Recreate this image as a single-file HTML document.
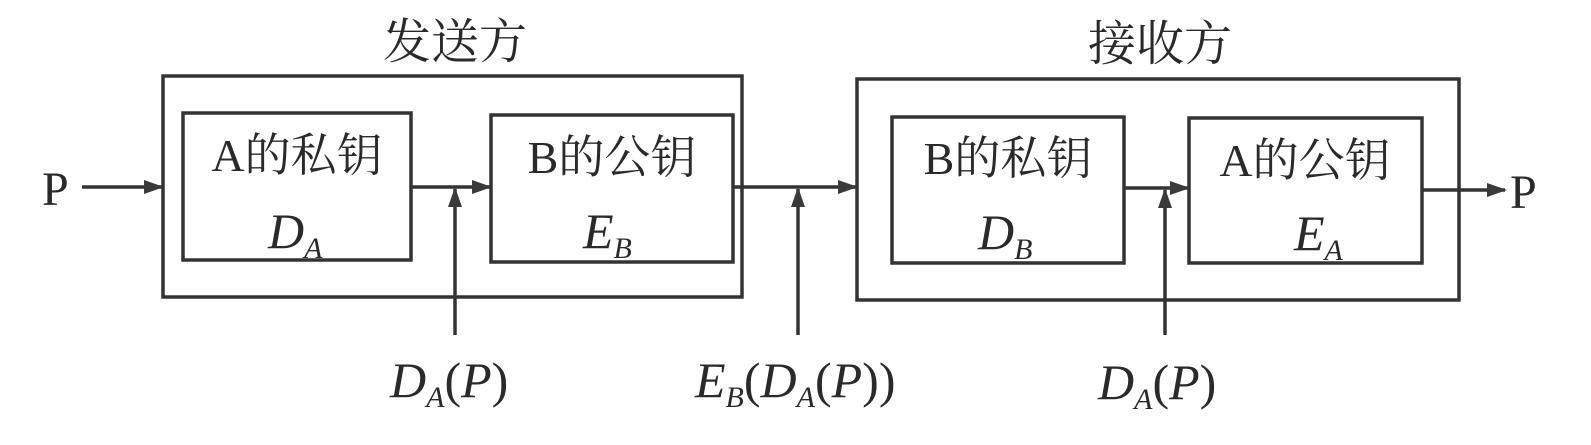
<!DOCTYPE html>
<html><head><meta charset="utf-8"><style>
html,body{margin:0;padding:0;background:#fff;}
svg{display:block}
text{fill:#2a2a2a}
.cj{font-family:"Liberation Serif","Noto Serif CJK SC",serif;}
.it{font-family:"Liberation Serif",serif;font-style:italic;}
</style></head><body>
<svg width="1591" height="445" viewBox="0 0 1591 445" xmlns="http://www.w3.org/2000/svg">
<defs>
<marker id="ah" markerWidth="20" markerHeight="20" refX="18" refY="10" orient="auto" markerUnits="userSpaceOnUse" viewBox="0 0 20 20"><path d="M0,3 L20,10 L0,17 z" fill="#3a3a3a"/></marker></defs>
<g fill="none" stroke="#333" stroke-width="3.5">
<rect x="163" y="76" width="579" height="221"/>
<rect x="183" y="113" width="228" height="147"/>
<rect x="491" y="115" width="242" height="147"/>
<rect x="857" y="79" width="602" height="221"/>
<rect x="892" y="117" width="232" height="146"/>
<rect x="1189" y="118" width="233" height="145"/>
<line x1="82" y1="187" x2="162" y2="187" marker-end="url(#ah)"/>
<line x1="411" y1="187" x2="490" y2="187" marker-end="url(#ah)"/>
<line x1="733" y1="187" x2="856" y2="187" marker-end="url(#ah)"/>
<line x1="1124" y1="188" x2="1188" y2="188" marker-end="url(#ah)"/>
<line x1="1422" y1="190" x2="1505" y2="190" marker-end="url(#ah)"/>
<line x1="455" y1="335" x2="455" y2="189" marker-end="url(#ah)"/>
<line x1="798" y1="335" x2="798" y2="189" marker-end="url(#ah)"/>
<line x1="1165" y1="335" x2="1165" y2="190" marker-end="url(#ah)"/>
</g>
<g class="cj" font-size="48" text-anchor="middle">
<text x="455" y="58">发送方</text>
<text x="1160" y="60">接收方</text>
</g>
<g class="cj" font-size="46" text-anchor="middle">
<text x="297" y="171">A的私钥</text>
<text x="612" y="173">B的公钥</text>
<text x="1008" y="174">B的私钥</text>
<text x="1305" y="176">A的公钥</text>
</g>
<g class="cj" font-size="48">
<text x="42" y="205">P</text>
<text x="1510" y="208">P</text>
</g>
<g class="it" font-size="50">
<text x="268" y="248">D<tspan font-size="30" dy="10">A</tspan></text>
<text x="583" y="248">E<tspan font-size="30" dy="10">B</tspan></text>
<text x="978" y="249">D<tspan font-size="30" dy="10">B</tspan></text>
<text x="1294" y="250">E<tspan font-size="30" dy="10">A</tspan></text>
<text x="390" y="397">D<tspan font-size="30" dy="10">A</tspan><tspan dy="-10" font-style="normal">(</tspan>P<tspan font-style="normal">)</tspan></text>
<text x="695" y="397">E<tspan font-size="30" dy="10">B</tspan><tspan dy="-10" font-style="normal">(</tspan>D<tspan font-size="30" dy="10">A</tspan><tspan dy="-10" font-style="normal">(</tspan>P<tspan font-style="normal">))</tspan></text>
<text x="1098" y="399">D<tspan font-size="30" dy="10">A</tspan><tspan dy="-10" font-style="normal">(</tspan>P<tspan font-style="normal">)</tspan></text>
</g>
</svg>
</body></html>
